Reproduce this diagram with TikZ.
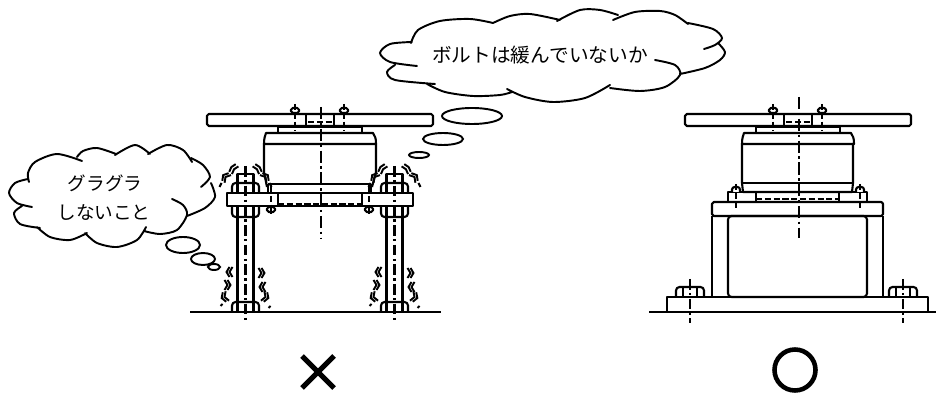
\documentclass[tikz,border=0pt]{standalone}
\usepackage{fontspec}
\newfontfamily\jpfont{Noto Sans CJK JP}
\tikzset{
    part/.style={line width=1.2pt,line join=round},
    rod/.style={line width=1.9pt},
    centerline/.style={line width=1.5pt,dash pattern=on 7pt off 2pt on 1.4pt off 2pt},
    smallcenter/.style={line width=1.2pt,dash pattern=on 6pt off 2pt on 1.2pt off 2pt},
    hidden/.style={line width=1.2pt,dash pattern=on 3.5pt off 1.5pt},
    cloudline/.style={line width=1.1pt,line cap=round},
    chev/.pic={
        \draw[line width=1.1pt] (0,-5) -- (-3,0) -- (0,5);
        \draw[line width=1.1pt] (3,-5) -- (0,0) -- (3,5);
    },
    chevflat/.pic={
        \draw[line width=1.1pt] (0,-5) -- (-1.5,0) -- (0,5);
        \draw[line width=1.1pt] (3.5,-5) -- (2,0) -- (3.5,5);
    }
}
\begin{document}
\begin{tikzpicture}[x=.02cm,y=-.02cm]
\useasboundingbox (0,0) rectangle (936,394);
\foreach \cx/\ctop in {0/107,478/97} {
\begin{scope}[shift={(\cx,0)}]
    \draw[part,rounded corners=1pt] (207,114) rectangle (433,126);
    \draw[part] (306,114) -- (306,126) (334,114) -- (334,126);
    \draw[hidden] (308,122) -- (332,122);
    \foreach \bx in {295,344} {
        \draw[part,rounded corners=1pt,fill=white] (\bx-4,113) rectangle (\bx+4,108);
        \draw[hidden,line width=1.5pt] (\bx,104) -- (\bx,131);
    }
    \draw[part] (278,133) -- (278,127) -- (362,127) -- (362,133);
    \draw[part] (264,144) .. controls (264,138) and (265,136) .. (266,133) -- (373,133)
        .. controls (375,136) and (376,138) .. (376,144) -- cycle;
    \draw[centerline] (321,\ctop) -- (321,238);
\end{scope}
}
% left
\draw[part] (264,144) -- (264,172) -- (267,187);
\draw[part] (376,144) -- (376,172) -- (372,187);
\draw[part] (268,184) -- (371,184) (268,184) -- (268,193) (371,184) -- (371,193);
\draw[part] (227,193) rectangle (413,206);
\draw[part] (278,193) -- (278,206) (362,193) -- (362,206);
\draw[hidden] (278,204) -- (362,204);
\foreach \bx in {271,369} {
    \draw[part,rounded corners=1pt,fill=white] (\bx-4,207) rectangle (\bx+4,212);
    \draw[hidden,line width=1.5pt] (\bx,187) -- (\bx,214);
}
\foreach \nx in {245.5,394.5} {
\begin{scope}[shift={(\nx,0)}]
    \draw[part] (-8,183) -- (-8,174) -- (8,174) -- (8,183);
    \draw[part,rounded corners=2pt] (-13.5,193) -- (-13.5,183) -- (13.5,183) -- (13.5,193);
    \draw[part] (-8,183) -- (-8,193) (8,183) -- (8,193);
    \draw[part,rounded corners=2pt] (-13.5,206) -- (-13.5,217) -- (13.5,217) -- (13.5,206);
    \draw[part] (-8,206) -- (-8,217) (8,206) -- (8,217);
    \draw[rod] (-8,217) -- (-8,302) (8,217) -- (8,302);
    \draw[part,rounded corners=2pt] (-13.5,312) -- (-13.5,302) -- (13.5,302) -- (13.5,312);
    \draw[part] (-8,302) -- (-8,312) (8,302) -- (8,312);
    \draw[smallcenter] (0,166) -- (0,322);
    \foreach \vx/\vy/\vr in {-16/272/0,-18/285/180,-21/297/20,16/273/180,17/287/0,20/297/160,
        -20/177/-40,20/177/220} {
        \pic[rotate=\vr] at (\vx,\vy) {chev};
    }
    \pic[rotate=-40] at (-13,168) {chevflat};
    \pic[rotate=220] at (13,168) {chevflat};
    \draw[part] (-25,306) -- (-23,304) (23,308) -- (25,306) (-26,187) -- (-24,183) (24,183) -- (26,187);
\end{scope}
}
\draw[part] (190,312) -- (441,312);
% right
\draw[part] (742,144) -- (742,183) -- (743,192) -- (852,192) -- (853,183) -- (853,144);
\draw[part] (742,183) -- (853,183);
\draw[part] (756,192) -- (756,202) (839,192) -- (839,202);
\draw[hidden] (756,199) -- (839,199);
\draw[part] (728,202) -- (728,192) -- (867,192) -- (867,202);
\foreach \bx in {736,860} {
    \draw[part,rounded corners=1.5pt,fill=white] (\bx-4,192) -- (\bx-4,187) -- (\bx+4,187) -- (\bx+4,192);
    \draw[hidden,line width=1.5pt] (\bx,184) -- (\bx,208);
}
\draw[part,rounded corners=1pt] (712,202) rectangle (883,216);
\draw[part] (712,216) -- (712,297) (883,216) -- (883,297);
\draw[part,rounded corners=2pt] (728,216) rectangle (867,297);
\draw[part] (667,312) -- (667,297) -- (928,297) -- (928,312);
\draw[part] (649,312) -- (936,312);
\foreach \nx in {690,903} {
    \draw[part,rounded corners=2pt] (\nx-14,297) -- (\nx-14,287) -- (\nx+14,287) -- (\nx+14,297);
    \draw[part] (\nx-7,287) -- (\nx-7,297) (\nx+7,287) -- (\nx+7,297);
    \draw[smallcenter] (\nx,279) -- (\nx,323);
}
% clouds
\draw[cloudline] plot[smooth] coordinates {(82,161) (57,154) (35,162) (28,173) (29,182)}
    plot[smooth] coordinates {(28,179) (15,183) (9,193) (17,203) (32,207)}
    plot[smooth] coordinates {(22,206) (14,213) (20,224) (40,228)}
    plot[smooth] coordinates {(37,227) (50,237) (70,240) (87,233)}
    plot[smooth] coordinates {(85,233) (97,243) (117,247) (137,240) (146,227)}
    plot[smooth] coordinates {(144,231) (160,234) (177,230) (187,215) (183,205) (172,199)}
    plot[smooth] coordinates {(187,216) (205,208) (215,197) (211,183)}
    plot[smooth] coordinates {(201,187) (210,177) (203,165) (191,158)}
    plot[smooth] coordinates {(192,162) (183,150) (167,145) (148,154)}
    plot[smooth] coordinates {(150,154) (135,145) (115,155)}
    plot[smooth] coordinates {(116,154) (97,148) (83,151) (77,157)};
\draw[cloudline] plot[smooth] coordinates {(493,23) (470,19) (440,21) (418,30) (411,43)}
    plot[smooth] coordinates {(412,42) (390,44) (380,53) (390,62) (417,66)}
    plot[smooth] coordinates {(395,65) (387,72) (395,80) (435,84)}
    plot[smooth] coordinates {(427,84) (445,92) (473,96) (500,95) (512,92)}
    plot[smooth] coordinates {(507,89) (525,97) (553,102) (585,98) (610,85)}
    plot[smooth] coordinates {(610,88) (640,91) (665,87) (680,75) (675,65) (655,60)}
    plot[smooth] coordinates {(680,74) (705,68) (720,60) (725,52) (718,43)}
    plot[smooth] coordinates {(704,49) (715,45) (722,38) (713,29) (688,23)}
    plot[smooth] coordinates {(688,24) (675,15) (660,11) (635,12) (613,20)}
    plot[smooth] coordinates {(618,15) (600,10) (580,10) (557,21)}
    plot[smooth] coordinates {(560,20) (530,14) (510,16) (493,23)};
\draw[cloudline] (472,116) ellipse (30 and 8) (443,139) ellipse (20 and 6) (419,155) ellipse (10 and 3);
\draw[cloudline] (183,245) ellipse (17 and 8) (203,259) ellipse (12 and 6) (214,267) ellipse (6 and 3);
\node[font=\jpfont\fontsize{10.6pt}{12pt}\selectfont,inner sep=0pt] (nagura) at (105,183) {グラグラ};
\node[font=\jpfont\fontsize{10.6pt}{12pt}\selectfont,inner sep=0pt] (koto) at (104,213) {しないこと};
\node[font=\jpfont\fontsize{11.2pt}{12pt}\selectfont,inner sep=0pt] (bolt) at (540,55) {ボルトは緩んでいないか};
% marks
\draw[line width=2.9pt] (302,356) -- (334,388) (334,356) -- (302,388);
\draw[line width=2.6pt] (795,370) circle (20.5);
\end{tikzpicture}
\end{document}
